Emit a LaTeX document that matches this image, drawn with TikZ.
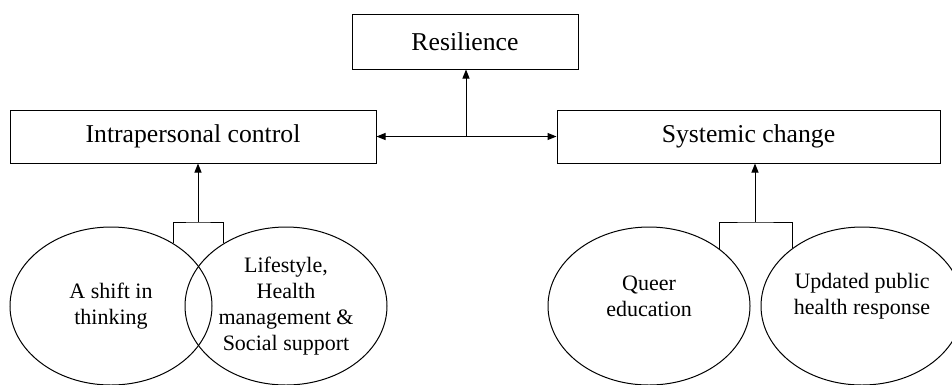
\documentclass[tikz,border=0pt]{standalone}
\usepackage{fontspec}
\setmainfont{Liberation Serif}
\usetikzlibrary{shapes.geometric,arrows.meta}
\begin{document}
\begin{tikzpicture}[x=1pt,y=-1pt,
  big/.style={font=\fontsize{25.7}{30}\selectfont},
  small/.style={font=\fontsize{22}{26}\selectfont},
  box/.style={big,draw,line width=1pt,inner sep=0pt},
  oval/.style={small,draw,ellipse,line width=1pt,inner sep=0pt,minimum width=202pt,minimum height=158pt,align=center},
  conn/.style={line width=1pt},
  arr/.style={conn,-{Triangle[length=9pt,width=7pt]}},
  darr/.style={conn,{Triangle[length=9pt,width=7pt]}-{Triangle[length=9pt,width=7pt]}}]
\useasboundingbox (0,0) rectangle (952,384);
\node[box,minimum width=226pt,minimum height=55pt] (res) at (465,41.5) {Resilience};
\node[box,minimum width=366pt,minimum height=53pt] (intra) at (193,136.5) {Intrapersonal control};
\node[box,minimum width=383pt,minimum height=53pt] (sys) at (748.5,136.5) {Systemic change};
\node[oval] (e1) at (111,306) {A shift in\\thinking};
\node[oval] (e2) at (286,306) {Lifestyle,\\Health\\management \&\\Social support};
\node[oval] (e3) at (649,306) {};
\node[oval] (e4) at (862,306) {};
\node[small,align=center] (t3) at (649,296) {Queer\\education};
\node[small,align=center] (t4) at (862,296) {Updated public\\health response};
\draw[darr] (intra.east) -- (sys.west);
\coordinate (mid) at (466,136.5);
\draw[arr] (mid) -- (mid |- res.south);
\coordinate (lb) at (198,222);
\draw[conn] (e1.45) |- (lb) -| (e2.135);
\draw[arr] (lb) -- (lb |- intra.south);
\coordinate (rb) at (755,222);
\draw[conn] (e3.39) |- (rb) -| (e4.140);
\draw[arr] (rb) -- (rb |- sys.south);
\end{tikzpicture}
\end{document}
